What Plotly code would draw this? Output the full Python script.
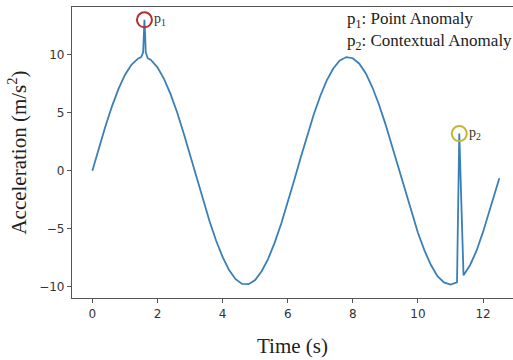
import plotly.graph_objects as go

time = [0.0, 0.2, 0.4, 0.6, 0.8, 1.0, 1.2, 1.4, 1.5, 1.56, 1.58, 1.6, 1.62, 1.64, 1.7, 1.8,
        2.0, 2.2, 2.4, 2.6, 2.8, 3.0, 3.2, 3.4, 3.6, 3.8, 4.0, 4.2, 4.4, 4.6, 4.8,
        5.0, 5.2, 5.4, 5.6, 5.8, 6.0, 6.2, 6.4, 6.6, 6.8, 7.0, 7.2, 7.4, 7.6, 7.8,
        8.0, 8.2, 8.4, 8.6, 8.8, 9.0, 9.2, 9.4, 9.6, 9.8, 10.0, 10.2, 10.4, 10.6, 10.8,
        11.0, 11.2, 11.27, 11.4, 11.6, 11.8, 12.0, 12.2, 12.4, 12.5]
accel = [0.0, 1.95, 3.82, 5.53, 7.03, 8.25, 9.13, 9.65, 9.78, 10.2, 11.8, 13.0, 11.8, 10.2, 9.69, 9.55,
         8.91, 7.92, 6.62, 5.06, 3.28, 1.38, -0.57, -2.51, -4.34, -6.00, -7.42, -8.55, -9.33, -9.74, -9.76,
         -9.40, -8.65, -7.58, -6.18, -4.56, -2.74, -0.81, 1.15, 3.06, 4.84, 6.44, 7.78, 8.81, 9.50, 9.79,
         9.69, 9.22, 8.38, 7.19, 5.73, 4.04, 2.18, 0.25, -1.71, -3.59, -5.33, -6.85, -8.11, -9.07, -9.61,
         -9.80, -9.60, 3.2, -9.0, -8.13, -6.88, -5.26, -3.50, -1.63, -0.65]

anom_t = [1.6, 11.27]
anom_v = [13.0, 3.2]
anom_names = ["p<sub>1</sub>", "p<sub>2</sub>"]
anom_colors = ["#b5312f", "#c2b832"]
legend_lines = ["p<sub>1</sub>: Point Anomaly", "p<sub>2</sub>: Contextual Anomaly"]
xticks = [0, 2, 4, 6, 8, 10, 12]
yticks = [-10, -5, 0, 5, 10]

serif = "Liberation Serif"

fig = go.Figure()
fig.add_trace(go.Scatter(x=time, y=accel, mode="lines",
                         line=dict(color="#3a7fb8", width=1.8), showlegend=False))
for t, v, c in zip(anom_t, anom_v, anom_colors):
    fig.add_trace(go.Scatter(x=[t], y=[v], mode="markers", showlegend=False,
                             marker=dict(symbol="circle-open", size=15,
                                         line=dict(color=c, width=2), color=c)))

anns = []
for t, v, n in zip(anom_t, anom_v, anom_names):
    anns.append(dict(x=t, y=v, xref="x", yref="y", text=n, showarrow=False,
                     xanchor="left", yanchor="middle", xshift=8,
                     font=dict(family=serif, size=14, color="#333")))
for i, s in enumerate(legend_lines):
    anns.append(dict(x=7.77, y=13.0 - i * 1.9, xref="x", yref="y", text=s, showarrow=False,
                     xanchor="left", yanchor="middle",
                     font=dict(family=serif, size=17, color="#222")))

fig.update_layout(
    width=513, height=360,
    margin=dict(l=72, r=0, t=7, b=62),
    paper_bgcolor="white", plot_bgcolor="white",
    annotations=anns,
    xaxis=dict(range=[-0.625, 12.92], tickvals=xticks, ticks="outside", ticklen=4,
               tickcolor="#555", showline=True, linecolor="#555", linewidth=1.2, mirror=True,
               showgrid=False, zeroline=False,
               tickfont=dict(family="DejaVu Sans", size=12, color="#333"),
               title=dict(text="Time (s)", font=dict(family=serif, size=21, color="#222"),
                          standoff=18)),
    yaxis=dict(range=[-10.95, 14.1], tickvals=yticks, ticks="outside", ticklen=4,
               tickcolor="#555", showline=True, linecolor="#555", linewidth=1.2,
               showgrid=False, zeroline=False,
               tickfont=dict(family="DejaVu Sans", size=12, color="#333"),
               title=dict(text="Acceleration (m/s<sup>2</sup>)",
                          font=dict(family=serif, size=21, color="#222"), standoff=6)),
)

fig.write_html("out.html")
